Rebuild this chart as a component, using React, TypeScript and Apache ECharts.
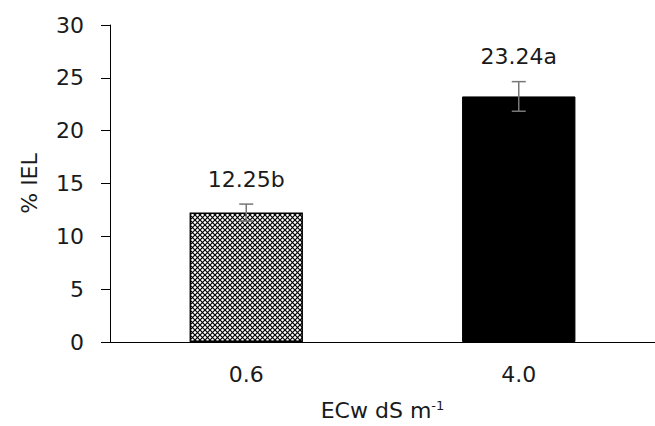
import React, { useEffect, useRef } from "react";
import * as echarts from "echarts";

const categories = ["0.6", "4.0"];
const means = [12.25, 23.24];
const errors = [0.8, 1.4];
const letters = ["b", "a"];
const yTicks = { min: 0, max: 30, interval: 5 };

const FONT = "'DejaVu Sans', sans-serif";
const FS = 22;

function makeHatch(): HTMLCanvasElement {
  const c = document.createElement("canvas");
  c.width = 5;
  c.height = 5;
  const ctx = c.getContext("2d")!;
  ctx.fillStyle = "#fff";
  ctx.fillRect(0, 0, 5, 5);
  ctx.strokeStyle = "#000";
  ctx.lineWidth = 1.2;
  ctx.beginPath();
  ctx.moveTo(0, 0);
  ctx.lineTo(5, 5);
  ctx.moveTo(5, 0);
  ctx.lineTo(0, 5);
  ctx.stroke();
  return c;
}

export default function App() {
  const ref = useRef<HTMLDivElement>(null);
  useEffect(() => {
    if (!ref.current) return;
    const chart = echarts.init(ref.current, undefined, { renderer: "svg" });
    const hatch = makeHatch();
    chart.setOption({
      animation: false,
      backgroundColor: "#fff",
      grid: { left: 110, right: -3, top: 25, bottom: 84 },
      xAxis: {
        type: "category",
        data: categories,
        axisLine: { lineStyle: { color: "#000", width: 1 } },
        axisTick: { show: false },
        axisLabel: { color: "#1a1a1a", fontSize: FS, fontFamily: FONT, margin: 21 },
        name: "ECw dS m{sup|-1}",
        nameLocation: "middle",
        nameGap: 57,
        nameTextStyle: {
          color: "#1a1a1a",
          fontSize: FS,
          fontFamily: FONT,
          rich: {
            sup: { fontSize: 13, fontFamily: FONT, color: "#1a1a1a", verticalAlign: "top", lineHeight: 20 },
          },
        },
      },
      yAxis: {
        type: "value",
        min: yTicks.min,
        max: yTicks.max,
        interval: yTicks.interval,
        splitLine: { show: false },
        axisLine: { show: true, lineStyle: { color: "#000", width: 1 } },
        axisTick: { show: true, length: 9, lineStyle: { color: "#000" } },
        axisLabel: { color: "#1a1a1a", fontSize: FS, fontFamily: FONT, margin: 26 },
        name: "% IEL",
        nameLocation: "middle",
        nameGap: 70,
        nameRotate: 90,
        nameTextStyle: { color: "#1a1a1a", fontSize: FS, fontFamily: FONT },
      },
      series: [
        {
          type: "bar",
          barWidth: "41.6%",
          data: means.map((v, i) => ({
            value: v,
            itemStyle:
              i === 0
                ? { color: { image: hatch, repeat: "repeat" }, borderColor: "#000", borderWidth: 1.5 }
                : { color: "#000", borderColor: "#000", borderWidth: 1 },
          })),
        },
        {
          type: "custom",
          data: means.map((v, i) => [i, v, errors[i]]),
          renderItem: (params: any, api: any) => {
            const x = api.value(0);
            const m = api.value(1);
            const e = api.value(2);
            const top = api.coord([x, m + e]);
            const bot = api.coord([x, m - e]);
            const cap = 7;
            const style = { stroke: "#777", lineWidth: 1.5 };
            return {
              type: "group",
              children: [
                { type: "line", shape: { x1: top[0], y1: top[1], x2: bot[0], y2: bot[1] }, style },
                { type: "line", shape: { x1: top[0] - cap, y1: top[1], x2: top[0] + cap, y2: top[1] }, style },
                { type: "line", shape: { x1: bot[0] - cap, y1: bot[1], x2: bot[0] + cap, y2: bot[1] }, style },
                {
                  type: "text",
                  x: top[0],
                  y: top[1] - 14,
                  style: {
                    text: means[params.dataIndex].toFixed(2) + letters[params.dataIndex],
                    fill: "#1a1a1a",
                    fontSize: FS,
                    fontFamily: FONT,
                    align: "center",
                    verticalAlign: "bottom",
                  },
                },
              ],
            };
          },
          z: 5,
        },
      ],
    });
    return () => chart.dispose();
  }, []);
  return <div ref={ref} style={{ width: 655, height: 426, position: "absolute", left: 0, top: 0 }} />;
}
